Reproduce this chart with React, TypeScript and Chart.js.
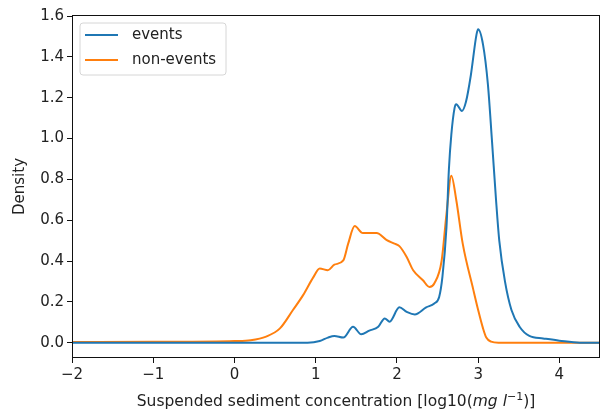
import React, { useEffect, useRef } from "react";
import { Chart, registerables } from "chart.js";

Chart.register(...registerables);

const eventsX = [-2, 0.9, 1.05, 1.15, 1.23, 1.34, 1.46, 1.56, 1.66, 1.77, 1.85, 1.91, 2.03, 2.12, 2.22, 2.36, 2.46, 2.52, 2.56, 2.61, 2.64, 2.67, 2.71, 2.73, 2.8, 2.85, 2.91, 2.98, 3.0, 3.06, 3.12, 3.17, 3.22, 3.26, 3.33, 3.41, 3.51, 3.63, 3.8, 4.0, 4.25, 4.5];
const eventsY = [0, 0, 0.008, 0.025, 0.033, 0.025, 0.078, 0.041, 0.059, 0.078, 0.119, 0.103, 0.173, 0.151, 0.138, 0.173, 0.192, 0.224, 0.322, 0.566, 0.85, 1.02, 1.15, 1.168, 1.135, 1.18, 1.31, 1.51, 1.535, 1.46, 1.265, 0.99, 0.7, 0.5, 0.3, 0.16, 0.078, 0.033, 0.021, 0.01, 0.0, 0.0];

const nonEventsX = [-2, -1, 0, 0.2, 0.39, 0.56, 0.72, 0.845, 0.97, 1.05, 1.15, 1.23, 1.34, 1.4, 1.48, 1.58, 1.75, 1.87, 1.97, 2.03, 2.12, 2.2, 2.32, 2.4, 2.46, 2.55, 2.61, 2.67, 2.73, 2.81, 2.94, 3.0, 3.06, 3.1, 3.16, 3.25, 4.5];
const nonEventsY = [0.003, 0.004, 0.008, 0.012, 0.03, 0.07, 0.16, 0.233, 0.32, 0.363, 0.355, 0.382, 0.403, 0.485, 0.571, 0.537, 0.537, 0.504, 0.485, 0.473, 0.42, 0.355, 0.306, 0.273, 0.29, 0.4, 0.63, 0.818, 0.7, 0.485, 0.26, 0.16, 0.07, 0.025, 0.005, 0, 0];

const xTicks = [-2, -1, 0, 1, 2, 3, 4];
const yTicks = [0, 0.2, 0.4, 0.6, 0.8, 1.0, 1.2, 1.4, 1.6];
const seriesLabels = ["events", "non-events"];
const seriesColors = ["#1f77b4", "#ff7f0e"];
const yTitle = "Density";

const FONT = '"DejaVu Sans"';
const TEXT = "#222";

const decor = {
  id: "decor",
  afterDraw(chart: any) {
    const { ctx, chartArea: a } = chart;
    ctx.save();
    // frame
    ctx.strokeStyle = "#111";
    ctx.lineWidth = 1;
    ctx.strokeRect(a.left + 0.5, a.top + 0.5, a.right - a.left - 1, a.bottom - a.top - 1);

    // legend
    const lx = 80, ly = 23, lw = 146, lh = 52, r = 3;
    ctx.beginPath();
    ctx.moveTo(lx + r, ly);
    ctx.arcTo(lx + lw, ly, lx + lw, ly + lh, r);
    ctx.arcTo(lx + lw, ly + lh, lx, ly + lh, r);
    ctx.arcTo(lx, ly + lh, lx, ly, r);
    ctx.arcTo(lx, ly, lx + lw, ly, r);
    ctx.closePath();
    ctx.fillStyle = "rgba(255,255,255,0.8)";
    ctx.fill();
    ctx.strokeStyle = "#d6d6d6";
    ctx.stroke();
    ctx.font = `15px ${FONT}`;
    ctx.textBaseline = "middle";
    ctx.textAlign = "left";
    seriesLabels.forEach((lab, i) => {
      const y = 35 + i * 25;
      ctx.strokeStyle = seriesColors[i];
      ctx.lineWidth = 2;
      ctx.beginPath();
      ctx.moveTo(85, y);
      ctx.lineTo(118, y);
      ctx.stroke();
      ctx.fillStyle = TEXT;
      ctx.fillText(lab, 132, y);
    });

    // y title
    ctx.save();
    ctx.translate(20, (a.top + a.bottom) / 2);
    ctx.rotate(-Math.PI / 2);
    ctx.textAlign = "center";
    ctx.fillStyle = TEXT;
    ctx.font = `15px ${FONT}`;
    ctx.fillText(yTitle, 0, 0);
    ctx.restore();

    // x title with mixed styles
    const parts = [
      { t: "Suspended sediment concentration [log10(", f: `15.5px ${FONT}`, dy: 0 },
      { t: "mg l", f: `italic 15.5px ${FONT}`, dy: 0 },
      { t: "\u22121", f: `11px ${FONT}`, dy: -5 },
      { t: ")]", f: `15.5px ${FONT}`, dy: 0 },
    ];
    let total = 0;
    const widths = parts.map((p) => {
      ctx.font = p.f;
      const w = ctx.measureText(p.t).width;
      total += w;
      return w;
    });
    let x = (a.left + a.right) / 2 - total / 2;
    ctx.textAlign = "left";
    ctx.textBaseline = "middle";
    ctx.fillStyle = TEXT;
    parts.forEach((p, i) => {
      ctx.font = p.f;
      ctx.fillText(p.t, x, 402 + p.dy);
      x += widths[i];
    });
    ctx.restore();
  },
};

export default function App() {
  const ref = useRef<HTMLCanvasElement>(null);
  useEffect(() => {
    if (!ref.current) return;
    const chart = new Chart(ref.current, {
      type: "line",
      data: {
        datasets: [
          {
            label: seriesLabels[0],
            data: eventsX.map((x, i) => ({ x, y: eventsY[i] })),
            borderColor: seriesColors[0],
            borderWidth: 2,
            pointRadius: 0,
            cubicInterpolationMode: "monotone",
            fill: false,
          },
          {
            label: seriesLabels[1],
            data: nonEventsX.map((x, i) => ({ x, y: nonEventsY[i] })),
            borderColor: seriesColors[1],
            borderWidth: 2,
            pointRadius: 0,
            cubicInterpolationMode: "monotone",
            fill: false,
          },
        ],
      },
      options: {
        animation: false,
        responsive: false,
        devicePixelRatio: 1,
        layout: { padding: { top: 15, right: 0, left: 0, bottom: 0 } },
        plugins: { legend: { display: false }, tooltip: { enabled: false } },
        scales: {
          x: {
            type: "linear",
            min: -2,
            max: 4.5,
            afterBuildTicks: (s: any) => {
              s.ticks = xTicks.map((v) => ({ value: v }));
            },
            afterFit: (s: any) => {
              s.height = 61;
            },
            grid: { drawOnChartArea: false, drawTicks: true, tickLength: 5, tickColor: "#111" },
            border: { display: false },
            ticks: {
              padding: 3,
              color: TEXT,
              font: { family: "DejaVu Sans", size: 15 },
              maxRotation: 0,
              callback: (v: any) => String(v).replace("-", "\u2212"),
            },
          },
          y: {
            type: "linear",
            min: -0.075,
            max: 1.605,
            afterBuildTicks: (s: any) => {
              s.ticks = yTicks.map((v) => ({ value: v }));
            },
            afterFit: (s: any) => {
              s.width = 72;
            },
            grid: { drawOnChartArea: false, drawTicks: true, tickLength: 5, tickColor: "#111" },
            border: { display: false },
            ticks: {
              padding: 3,
              color: TEXT,
              font: { family: "DejaVu Sans", size: 15 },
              callback: (v: any) => Number(v).toFixed(1),
            },
          },
        },
      },
      plugins: [decor],
    } as any);
    return () => chart.destroy();
  }, []);
  return (
    <div style={{ position: "absolute", left: 0, top: 0, width: 600, height: 419 }}>
      <canvas ref={ref} width={600} height={419} style={{ width: 600, height: 419 }} />
    </div>
  );
}
